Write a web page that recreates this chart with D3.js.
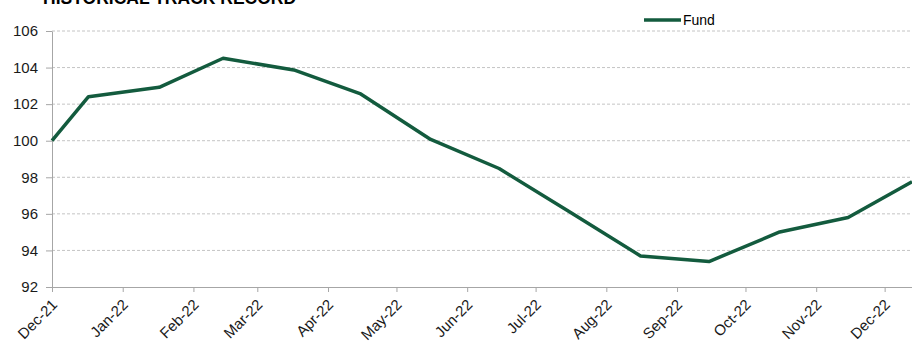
<!DOCTYPE html>
<html lang="en">
<head>
    <meta charset="UTF-8">
    <title>Historical Track Record</title>
    <style>
        body {
            margin: 0;
            background: #fff;
            font-family: "Liberation Sans", Arial, sans-serif;
        }

        .grid line {
            stroke: #c4c4c4;
            stroke-dasharray: 3, 2;
        }

        .axis path,
        .axis line {
            stroke: #a6a6a6;
        }

        .axis text {
            font-size: 15px;
            fill: #1a1a1a;
        }
    </style>
</head>
<body>

<svg id="chart"></svg>

<script src="https://d3js.org/d3.v7.min.js"></script>
<script>
    // Fund index
    const dates = ["2021-12-01", "2021-12-17", "2022-01-17", "2022-02-14", "2022-03-17", "2022-04-15",
        "2022-05-16", "2022-06-15", "2022-07-16", "2022-08-16", "2022-09-15", "2022-10-16",
        "2022-11-15", "2022-12-13"];
    const fund = [100, 102.41, 102.92, 104.51, 103.87, 102.58, 100.07, 98.48, 96.1, 93.7, 93.39, 95.01, 95.8, 97.76];
    const yTicks = [92, 94, 96, 98, 100, 102, 104, 106];
    const seriesName = "Fund";
    const title = "HISTORICAL TRACK RECORD";

    const width = 912;
    const height = 341;
    const margin = {top: 31, right: 0, bottom: 54, left: 52};
    const green = "#135b3e";

    const parse = d3.timeParse("%Y-%m-%d");
    const data = dates.map((d, i) => ({date: parse(d), value: fund[i]}));

    const svg = d3.select("#chart")
        .attr("width", width)
        .attr("height", height);

    const x = d3.scaleTime()
        .domain([parse("2021-12-01"), parse("2022-12-13")])
        .range([margin.left, width - margin.right]);

    const y = d3.scaleLinear()
        .domain([92, 106])
        .range([height - margin.bottom, margin.top]);

    // title, cut off at the top edge just like the original
    svg.append("text")
        .attr("x", 43)
        .attr("y", 4)
        .style("font-size", "17.5px")
        .style("font-weight", "bold")
        .text(title);

    // dashed gridlines
    svg.append("g")
        .attr("class", "grid")
        .selectAll("line")
        .data(yTicks.filter(d => d > 92))
        .enter()
        .append("line")
        .attr("x1", margin.left)
        .attr("x2", width)
        .attr("y1", d => y(d))
        .attr("y2", d => y(d));

    // y axis
    svg.append("g")
        .attr("class", "axis")
        .attr("transform", `translate(${margin.left},0)`)
        .call(d3.axisLeft(y).tickValues(yTicks).tickSize(6).tickSizeOuter(0).tickPadding(8));

    // x axis
    const months = d3.timeMonth.range(parse("2021-12-01"), parse("2022-12-02"));
    const xAxis = svg.append("g")
        .attr("class", "axis")
        .attr("transform", `translate(0,${height - margin.bottom})`)
        .call(d3.axisBottom(x).tickValues(months).tickFormat(d3.timeFormat("%b-%y")).tickSize(5).tickSizeOuter(0));

    xAxis.selectAll("text")
        .attr("x", 0)
        .attr("y", 0)
        .attr("dy", "0.35em")
        .style("text-anchor", "end")
        .attr("transform", "translate(2,15) rotate(-45)");

    // fund line
    const line = d3.line()
        .x(d => x(d.date))
        .y(d => y(d.value));

    svg.append("path")
        .datum(data)
        .attr("fill", "none")
        .attr("stroke", green)
        .attr("stroke-width", 3.5)
        .attr("stroke-linejoin", "round")
        .attr("d", line);

    // legend
    const legend = svg.append("g").attr("transform", "translate(644,20)");
    legend.append("line")
        .attr("x1", 0)
        .attr("x2", 37)
        .attr("stroke", green)
        .attr("stroke-width", 3.5);
    legend.append("text")
        .attr("x", 39)
        .attr("dy", "0.35em")
        .style("font-size", "14px")
        .text(seriesName);
</script>

</body>
</html>
